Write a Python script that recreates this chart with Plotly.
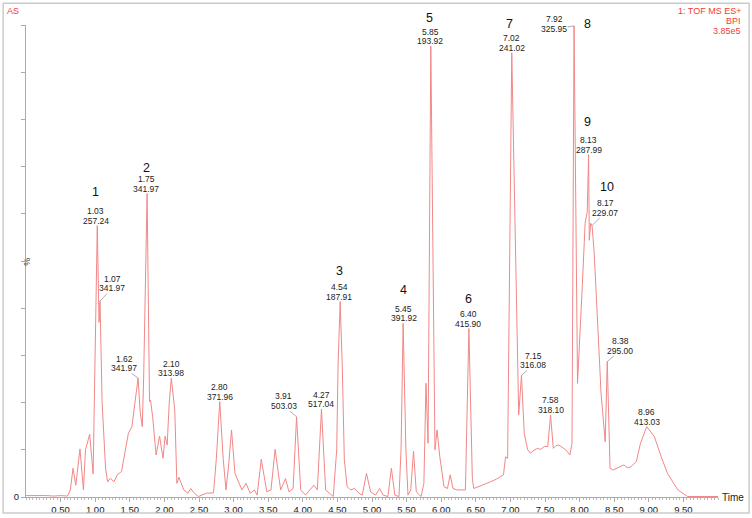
import plotly.graph_objects as go

# chromatogram trace (retention time in min, relative intensity in %)
time = [0.00, 0.10, 0.20, 0.30, 0.40, 0.50, 0.60, 0.64, 0.68, 0.72, 0.78, 0.83, 0.86, 0.92, 0.97,
        1.03, 1.055, 1.07, 1.10, 1.15, 1.18, 1.22, 1.27, 1.32, 1.38, 1.44, 1.48, 1.53, 1.57, 1.62,
        1.65, 1.68, 1.70, 1.75, 1.785, 1.80, 1.83, 1.88, 1.93, 1.98, 2.01, 2.04, 2.07, 2.10, 2.15,
        2.18, 2.21, 2.28, 2.34, 2.38, 2.42, 2.49, 2.61, 2.71, 2.75, 2.80, 2.85, 2.89, 2.93, 2.97,
        3.02, 3.12, 3.18, 3.24, 3.30, 3.34, 3.40, 3.48, 3.54, 3.60, 3.68, 3.75, 3.80, 3.86, 3.91,
        3.97, 4.04, 4.16, 4.21, 4.27, 4.33, 4.44, 4.49, 4.51, 4.54, 4.57, 4.60, 4.64, 4.69, 4.75,
        4.81, 4.86, 4.92, 4.98, 5.05, 5.11, 5.16, 5.23, 5.28, 5.33, 5.39, 5.42, 5.45, 5.49, 5.52,
        5.56, 5.60, 5.64, 5.71, 5.75, 5.78, 5.81, 5.85, 5.91, 5.94, 5.98, 6.04, 6.09, 6.13, 6.17,
        6.23, 6.35, 6.40, 6.45, 6.47, 6.60, 6.71, 6.80, 6.86, 6.90, 6.93, 6.96, 7.02, 7.12, 7.16,
        7.20, 7.25, 7.29, 7.34, 7.39, 7.44, 7.49, 7.54, 7.58, 7.62, 7.66, 7.70, 7.75, 7.80, 7.86,
        7.89, 7.92, 7.97, 8.04, 8.08, 8.11, 8.13, 8.14, 8.16, 8.18, 8.21, 8.31, 8.37, 8.40, 8.44,
        8.48, 8.56, 8.64, 8.69, 8.74, 8.82, 8.88, 8.97, 9.03, 9.08, 9.18, 9.27, 9.42, 9.56, 9.80,
        10.0]
intensity = [0.3, 0.3, 0.4, 0.3, 0.2, 0.3, 0.2, 1.5, 6.1, 2.5, 10.2, 1.5, 10.0, 13.3, 4.9,
             57.5, 37.0, 41.5, 20.0, 6.0, 3.2, 4.0, 3.2, 4.7, 5.4, 10.0, 13.5, 14.9, 20.0, 25.2,
             18.0, 14.9, 25.0, 64.3, 20.2, 20.5, 17.0, 8.9, 12.9, 8.2, 12.9, 11.0, 20.0, 25.2, 18.4,
             2.9, 4.2, 1.5, 0.8, 1.8, 1.0, 0.1, 0.8, 0.9, 8.0, 20.2, 8.0, 1.5, 7.0, 14.2,
             5.0, 1.5, 2.9, 0.8, 1.5, 0.4, 8.0, 1.1, 1.5, 10.1, 1.5, 3.9, 1.1, 1.8, 17.0,
             1.5, 0.4, 2.5, 1.5, 18.6, 1.5, 0.1, 10.0, 28.0, 41.4, 28.0, 8.0, 2.2, 1.5, 1.8,
             0.8, 0.4, 5.0, 1.1, 0.4, 1.8, 0.4, 0.1, 6.1, 0.4, 0.1, 10.0, 36.8, 10.0, 0.4,
             1.5, 9.7, 1.1, 0.1, 2.9, 24.1, 11.4, 95.5, 10.0, 14.2, 8.5, 2.2, 1.8, 4.7, 1.8,
             1.5, 1.5, 35.7, 4.0, 1.8, 2.5, 3.2, 3.8, 4.3, 4.7, 8.5, 8.2, 94.1, 17.4, 25.8,
             13.5, 10.0, 9.3, 9.9, 10.3, 10.1, 10.7, 10.7, 17.4, 10.3, 10.9, 11.0, 10.4, 10.0, 8.9,
             11.4, 99.8, 24.1, 45.0, 58.0, 60.4, 72.5, 54.4, 58.0, 57.5, 52.0, 22.0, 11.7, 28.7, 6.1,
             5.7, 6.3, 6.8, 6.2, 6.4, 7.5, 11.4, 14.9, 13.8, 12.8, 8.5, 5.0, 1.5, 0.1, 0.1,
             0.1]

# labelled peaks: label time, m/z, tip of the label (time, %), leader offset in px (0 = none)
peak_label = ["1.03", "1.07", "1.75", "1.62", "2.10", "2.80", "3.91", "4.27", "4.54", "5.45",
              "5.85", "6.40", "7.02", "7.15", "7.58", "7.92", "8.13", "8.17", "8.38", "8.96"]
peak_mz = ["257.24", "341.97", "341.97", "341.97", "313.98", "371.96", "503.03", "517.04",
           "187.91", "391.92", "193.92", "415.90", "241.02", "316.08", "318.10", "325.95",
           "287.99", "229.07", "295.00", "413.03"]
tip_time = [1.01, 1.07, 1.74, 1.62, 2.10, 2.80, 3.91, 4.27, 4.53, 5.46, 5.84, 6.39, 7.02,
            7.16, 7.58, 7.92, 8.13, 8.18, 8.40, 8.97]
tip_pct = [57.5, 41.5, 64.3, 25.2, 25.2, 20.2, 17.0, 18.6, 41.4, 36.8, 95.5, 35.7, 94.1,
           25.8, 17.4, 99.8, 72.5, 57.5, 28.7, 14.9]
leader_ax = [0, 12, 0, -14, 0, 0, -13, 0, 0, 0, 0, 0, 0, 12, 0, -20, 0, 13, 13, 0]
leader_ay = [0, -13, 0, -10, 0, 0, -11, 0, 0, 0, 0, 0, 0, -10, 0, 3, 0, -13, -11, 0]

# compound numbers, placed above a tip by a pixel shift
num_text = ["1", "2", "3", "4", "5", "6", "7", "8", "9", "10"]
num_time = [1.01, 1.74, 4.53, 5.46, 5.83, 6.39, 6.99, 8.11, 8.11, 8.39]
num_pct = [57.5, 64.3, 41.4, 36.8, 95.5, 35.7, 94.1, 99.8, 72.5, 57.5]
num_shift = [34, 26, 31, 33, 28, 30, 29, 2, 33, 39]

x_ticks = [0.5, 1.0, 1.5, 2.0, 2.5, 3.0, 3.5, 4.0, 4.5, 5.0, 5.5, 6.0, 6.5, 7.0, 7.5, 8.0, 8.5, 9.0, 9.5]
y_ticks = [0, 10, 20, 30, 40, 50, 60, 70, 80, 90, 100]

red = "#ef3e36"
font = "Liberation Sans, Arial, sans-serif"
lab = dict(size=8.5, color="#222")

fig = go.Figure()
fig.add_trace(go.Scatter(x=time, y=intensity, mode="lines",
                         line=dict(color="rgb(242,135,135)", width=1), hoverinfo="skip"))

for t, mz, tx, ty, ax, ay in zip(peak_label, peak_mz, tip_time, tip_pct, leader_ax, leader_ay):
    if ax == 0 and ay == 0:
        fig.add_annotation(x=tx, y=ty, text=mz, showarrow=False, yshift=5, font=lab)
        fig.add_annotation(x=tx, y=ty, text=t, showarrow=False, yshift=14.5, font=lab)
    else:
        fig.add_annotation(x=tx, y=ty, text=mz, showarrow=True, ax=ax, ay=ay,
                           arrowhead=0, arrowwidth=0.8, arrowcolor="#999", standoff=0,
                           borderpad=0, font=lab)
        fig.add_annotation(x=tx, y=ty, text=t, showarrow=False, xshift=ax,
                           yshift=-ay + 9.5, font=lab)

for s, t, p, sh in zip(num_text, num_time, num_pct, num_shift):
    fig.add_annotation(x=t, y=p, text=s, showarrow=False, yshift=sh,
                       font=dict(size=12.5, color="#111"))

# header texts
fig.add_annotation(xref="paper", yref="paper", x=-0.0305, y=1.0297, text="AS", showarrow=False,
                   xanchor="left", yanchor="middle", font=dict(size=9, color=red))
for line, ypx in zip(["1: TOF MS ES+", "BPI", "3.85e5"], [11, 21, 31]):
    fig.add_annotation(xref="paper", yref="paper", x=1.0365, y=(497.5 - ypx) / 472.5, text=line,
                       showarrow=False, xanchor="right", yanchor="middle",
                       font=dict(size=9, color=red))
fig.add_annotation(xref="paper", yref="paper", x=-0.009, y=0.498, text="%", showarrow=False,
                   textangle=-90, font=dict(size=9, color="#333"))
fig.add_annotation(xref="paper", yref="paper", x=1.003, y=0, text="Time", showarrow=False,
                   xanchor="left", yanchor="middle", font=dict(size=10, color="#222"))

# outer frame
fig.add_shape(type="rect", xref="paper", yref="paper", x0=-0.033, x1=1.045, y0=-0.034, y1=1.046,
              line=dict(color="#cccccc", width=1.5))

fig.update_layout(
    width=752, height=518,
    margin=dict(l=26, r=34, t=25, b=21, autoexpand=False),
    paper_bgcolor="white", plot_bgcolor="white",
    showlegend=False,
    font=dict(family=font, size=10, color="#222"),
    xaxis=dict(range=[0, 10], tickvals=x_ticks, ticktext=[f"{v:.2f}" for v in x_ticks],
               automargin=False, showgrid=False, zeroline=False, showline=True,
               linecolor="#aaa", linewidth=1, ticks="outside", ticklen=4, tickcolor="#aaa",
               minor=dict(dtick=0.05, tick0=0, ticks="outside", ticklen=2, tickcolor="#bbb"),
               tickfont=dict(size=9.5, color="#222")),
    yaxis=dict(range=[0, 100], tickvals=y_ticks, ticktext=["0"] + [""] * 10,
               automargin=False, showgrid=False, zeroline=False, showline=True,
               linecolor="#aaa", linewidth=1, ticks="outside", ticklen=4, tickcolor="#aaa",
               tickfont=dict(size=9.5, color="#222")),
)

# the page's default body margin would shift the figure by 8px
fig.write_html("out.html", config={"displayModeBar": False},
               post_script="document.body.style.margin = '0';")
